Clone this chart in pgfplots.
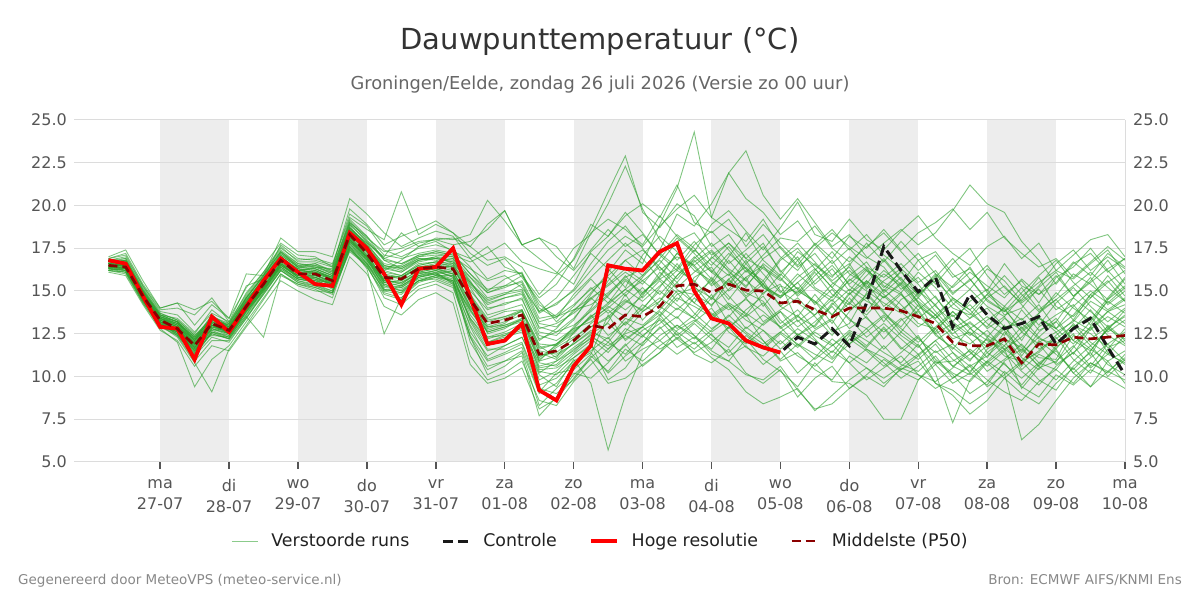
\documentclass[border=0pt]{standalone}
\usepackage{fontspec}
\setmainfont{DejaVu Sans}
\usepackage{pgfplots}
\usepackage{pgfplotstable}
\pgfplotsset{compat=1.18}
\definecolor{bandgray}{HTML}{EDEDED}
\definecolor{gridgray}{HTML}{DCDCDC}
\definecolor{ens}{HTML}{2CA02C}
\definecolor{p50c}{HTML}{8B0000}
\definecolor{titlec}{HTML}{333333}
\definecolor{subc}{HTML}{666666}
\definecolor{tickc}{HTML}{555555}
\definecolor{footc}{HTML}{888888}

% one row per ensemble member, 6-hourly values from 26-07 06:00 to 10-08 00:00
\pgfplotstableread[header=false]{
m1 16.6 16.7 14.9 13.4 13.0 12.0 13.3 12.9 14.5 15.7 17.1 16.4 16.3 15.9 18.8 17.6 16.3 16.1 16.7 16.9 16.8 15.3 14.2 14.6 14.9 12.9 12.6 13.4 14.6 15.3 16.1 15.4 16.6 17.9 18.4 17.1 17.8 16.9 16.3 15.6 16.8 15.2 14.6 15.9 16.7 15.3 14.8 13.9 14.7 13.2 12.4 13.3 14.0 12.6 13.4 12.8 14.1 15.0 14.3 15.2
m2 16.2 16.0 14.3 12.8 12.0 9.4 11.0 11.8 13.2 14.6 16.0 15.4 15.1 14.6 17.5 16.4 14.9 14.6 15.5 15.8 15.6 12.0 10.4 10.9 11.5 9.0 9.6 10.8 11.4 10.2 11.2 12.0 12.8 13.5 12.4 11.6 12.9 13.6 12.1 11.0 11.9 11.3 10.8 12.2 11.5 10.6 11.4 12.3 11.0 10.2 9.7 10.8 11.6 9.3 10.5 10.9 11.8 10.6 11.9 12.6
m3 16.8 17.0 15.3 13.8 13.6 12.6 13.7 13.2 14.8 16.1 17.5 16.8 16.9 16.6 19.3 18.6 18.0 20.8 18.3 18.9 18.4 17.2 16.5 16.9 15.8 14.4 13.2 14.1 15.2 14.3 15.6 14.8 15.9 17.2 16.4 15.3 16.0 14.7 15.6 14.1 13.5 14.8 13.6 14.9 13.8 15.1 14.2 13.1 12.8 13.6 12.5 11.9 13.0 11.2 12.6 13.4 12.1 13.2 14.4 13.7
m4 16.4 16.5 14.8 13.5 13.2 12.3 13.0 12.5 13.9 15.2 16.6 16.1 15.8 15.5 17.9 17.0 16.2 16.8 17.6 18.1 18.0 18.3 20.3 19.1 17.7 16.9 16.1 15.4 17.3 18.2 19.6 18.4 17.1 18.3 17.5 16.2 15.4 16.8 15.2 14.6 15.5 14.2 15.1 13.9 14.6 13.2 14.5 15.1 13.8 12.7 13.1 12.4 11.8 12.9 11.6 12.2 13.0 12.5 11.7 12.1
m5 16.3 16.2 14.6 13.1 12.6 11.6 12.6 12.3 13.6 15.1 16.5 15.8 15.6 15.3 18.1 17.0 15.1 14.9 15.8 16.1 15.4 12.6 11.2 11.8 12.3 10.1 9.4 11.0 9.6 5.7 8.9 11.3 12.4 13.0 12.2 13.4 14.1 12.8 13.6 12.9 11.8 12.7 13.3 11.9 12.6 13.5 12.4 11.7 12.8 11.4 10.6 11.2 12.1 10.4 11.3 10.8 12.4 11.6 10.9 11.5
m6 16.6 16.5 14.8 13.4 13.1 12.1 13.5 13.0 14.2 15.5 16.9 16.2 16.1 15.8 18.5 17.5 16.5 16.2 16.8 17.0 16.6 15.5 14.3 14.6 14.8 12.6 12.4 13.3 14.8 16.1 17.4 16.6 18.9 21.0 24.3 19.3 18.6 17.9 19.2 17.5 16.4 17.2 15.9 16.6 15.1 16.0 15.3 14.1 13.4 14.6 13.9 12.8 13.5 12.1 13.7 14.5 13.3 14.8 15.6 14.4
m7 16.7 16.9 15.1 13.7 13.3 12.4 13.4 12.8 14.6 15.9 17.3 16.5 16.6 16.1 18.9 17.9 16.8 16.3 16.9 16.8 16.5 15.2 13.6 13.9 14.2 12.1 12.8 13.9 14.2 14.9 15.8 16.3 17.4 19.5 18.8 20.1 21.9 23.2 20.6 19.2 20.4 19.0 17.6 18.3 17.0 16.4 15.1 15.8 14.6 13.5 14.2 13.1 12.4 13.9 12.7 13.2 14.6 13.8 12.9 13.5
m8 16.9 17.2 15.4 14.0 14.3 13.0 14.2 13.4 15.2 16.5 17.8 17.1 17.0 16.4 19.8 18.9 17.7 18.2 18.6 19.1 18.4 17.6 16.8 17.0 16.4 14.8 15.9 16.8 18.6 20.8 22.9 19.6 18.7 20.1 19.4 17.6 18.3 16.9 17.8 16.1 17.0 15.4 16.3 15.0 16.2 15.5 14.9 16.1 15.2 14.0 13.6 14.8 13.9 12.8 13.7 14.9 14.0 13.3 14.6 15.8
m9 16.5 16.3 14.6 13.2 12.7 11.9 13.2 12.9 14.3 15.3 16.7 15.9 16.2 15.7 18.1 17.1 15.7 15.4 16.1 16.0 16.2 14.1 12.8 13.1 13.9 11.8 11.1 12.6 13.5 14.2 15.1 15.9 16.8 15.7 16.9 17.8 16.6 17.4 18.3 17.0 16.2 17.5 18.4 17.6 16.9 17.8 18.6 17.7 18.4 19.7 21.2 20.1 19.6 17.9 16.8 15.4 16.6 17.2 16.1 16.9
m10 16.3 16.1 14.4 13.0 12.5 11.3 12.6 12.2 13.8 15.0 16.3 15.7 15.5 15.2 17.7 16.8 15.3 15.2 15.9 16.1 15.9 13.6 12.3 12.6 13.1 10.6 10.9 11.7 12.4 11.6 12.8 12.3 13.5 14.6 14.1 13.5 14.2 13.3 12.7 11.9 12.8 12.1 11.4 12.6 11.8 12.9 11.7 11.0 11.9 10.6 10.1 10.9 10.2 6.3 7.2 8.6 9.9 10.8 10.2 11.3
m11 16.4 16.4 14.7 13.2 12.4 11.2 12.3 12.0 13.4 14.8 16.2 15.6 15.3 14.9 17.3 16.5 14.6 14.2 15.1 15.4 14.9 11.2 9.8 10.2 10.9 8.6 8.3 9.7 10.7 11.6 12.4 11.8 12.9 11.7 12.3 11.5 10.9 12.2 11.0 10.3 9.4 10.8 9.7 9.6 8.9 7.5 7.5 9.8 10.7 11.4 10.2 11.6 12.3 11.1 10.4 11.7 12.5 11.2 13.0 12.1
m12 16.6 16.5 14.9 13.3 12.9 11.7 13.0 12.6 14.0 15.4 16.8 16.3 16.0 15.4 18.0 16.9 15.6 15.9 16.5 16.7 16.4 14.8 13.4 13.8 13.9 11.9 11.8 12.5 13.6 12.4 13.1 14.2 13.6 14.8 15.2 14.6 13.9 14.5 13.8 12.9 13.6 12.4 11.8 12.7 12.1 11.4 10.8 11.9 10.2 7.3 9.8 10.9 11.8 10.6 12.1 11.3 10.4 11.5 12.8 12.2
m13 17.0 17.4 15.6 14.0 14.3 13.9 14.4 13.4 16.0 15.9 18.1 17.3 17.3 17.0 20.4 19.5 18.4 17.6 18.1 18.5 18.2 16.9 15.7 16.2 16.0 13.8 14.2 15.1 16.6 17.9 18.8 17.5 16.2 17.0 16.5 17.3 16.1 15.3 16.4 15.7 14.8 15.9 16.8 15.3 14.6 15.6 16.3 15.4 14.1 13.2 14.4 15.1 13.6 14.0 15.2 16.1 14.7 15.5 16.3 16.9
m14 16.1 15.9 14.2 12.7 12.1 10.6 11.8 11.5 12.9 14.2 15.6 15.0 14.5 14.2 17.0 16.0 14.1 13.6 14.5 14.9 14.3 10.7 9.6 9.9 10.5 8.1 8.7 9.9 11.2 10.3 11.6 10.9 11.8 12.5 11.3 10.8 11.6 10.2 9.6 10.4 8.8 9.9 10.6 9.3 10.1 11.0 10.3 9.8 10.9 10.1 9.0 9.7 10.8 9.5 10.7 11.6 10.2 9.4 10.9 9.6
m15 16.5 16.6 14.8 13.4 12.9 12.2 12.9 12.7 14.2 15.6 16.9 16.1 16.0 15.7 18.4 17.3 16.0 15.8 16.4 16.6 16.5 14.9 12.5 12.8 13.4 11.0 11.7 12.3 12.9 13.5 14.4 13.9 15.2 16.6 15.3 14.1 15.6 14.9 14.4 13.1 13.9 12.8 13.4 14.3 13.6 14.7 13.8 12.9 13.6 12.4 11.9 12.7 11.6 10.9 12.0 12.6 11.3 12.8 13.5 12.9
m16 16.7 16.8 15.0 13.6 13.4 12.5 13.9 13.1 14.7 16.0 17.4 16.6 16.4 16.3 19.2 18.2 17.1 16.9 17.2 17.4 17.2 16.0 14.9 15.3 15.5 13.4 13.6 14.6 15.7 14.6 13.9 14.7 16.1 15.1 14.3 15.8 14.7 13.6 14.9 15.4 13.2 14.0 12.6 13.1 14.9 13.8 12.6 13.9 12.5 11.6 12.8 13.5 12.7 11.5 12.9 13.6 14.2 13.0 14.5 15.3
m17 16.2 16.3 14.5 13.0 12.6 11.4 13.4 12.8 13.9 15.1 16.4 15.7 15.7 15.1 17.8 16.6 15.2 15.1 15.7 15.9 15.9 13.3 11.8 12.2 12.9 9.8 10.3 11.3 12.1 13.2 14.8 13.3 14.4 15.9 16.8 15.7 14.5 15.8 16.5 15.0 14.3 13.6 14.7 15.6 16.4 14.9 15.8 14.3 12.6 13.8 12.9 11.4 12.2 11.7 10.6 11.8 13.1 12.0 11.3 10.8
m18 16.6 16.4 14.7 13.3 12.8 11.9 12.4 12.3 14.0 15.3 16.6 15.9 15.9 15.6 18.2 17.2 15.6 15.5 16.0 16.2 16.0 14.0 12.9 13.0 13.3 11.5 11.3 11.9 12.6 12.2 13.4 13.0 13.9 15.0 14.8 14.2 15.1 16.2 15.3 14.7 15.2 14.4 13.1 14.6 13.4 12.6 13.4 12.2 11.4 11.9 11.0 11.8 12.9 11.8 11.1 11.0 12.9 13.5 12.4 11.8
m19 16.4 16.2 14.6 13.1 12.7 11.8 13.1 12.5 13.7 15.0 16.5 15.9 15.8 15.4 17.9 16.8 15.5 15.3 16.0 16.2 15.8 13.2 11.6 11.6 12.0 9.5 9.9 10.9 11.5 12.3 10.9 11.6 12.1 11.3 12.0 11.1 10.4 9.1 8.4 8.8 9.3 8.0 8.9 9.8 10.5 9.9 10.6 11.3 9.6 9.2 8.4 9.1 10.3 9.4 8.8 10.1 9.5 10.4 9.9 9.3
m20 16.8 16.7 15.0 13.5 13.1 12.2 13.6 12.9 14.3 15.8 17.0 16.2 16.4 16.0 18.7 17.7 16.6 16.4 16.9 16.9 16.7 15.8 14.6 14.9 15.1 13.1 12.9 13.8 14.9 15.9 16.8 17.4 16.4 15.2 16.1 16.9 17.8 16.6 15.4 16.8 17.5 16.3 15.2 16.5 17.8 16.7 17.9 16.8 15.4 16.6 17.5 15.9 14.8 15.6 14.3 15.8 16.4 17.5 16.2 15.1
m21 16.3 16.4 14.6 13.2 12.7 11.6 12.9 12.6 14.1 15.2 16.6 15.8 15.6 15.5 18.0 17.0 15.5 15.6 16.2 16.3 16.1 14.4 12.0 12.4 13.0 10.4 10.5 11.1 11.9 9.8 10.5 11.9 13.4 12.6 11.9 12.7 13.6 12.6 11.9 12.6 13.3 12.2 11.1 12.4 11.7 12.8 11.6 12.4 10.8 10.9 11.5 10.3 11.0 11.9 10.8 10.4 11.7 12.9 11.4 10.7
m22 16.9 17.1 15.3 13.9 14.0 13.6 14.6 13.2 15.3 15.7 17.7 16.9 16.8 16.5 19.5 18.8 17.4 17.0 17.5 17.7 17.4 16.4 15.0 15.7 16.1 14.0 13.4 14.8 15.8 16.8 17.8 16.9 15.7 16.3 17.7 18.5 17.4 16.1 17.1 18.1 17.9 18.8 17.5 16.7 17.6 18.4 17.3 16.2 17.1 15.8 16.3 15.0 16.6 15.3 14.8 15.5 16.7 15.9 17.2 16.4
m23 16.5 16.3 14.5 13.0 12.4 10.9 12.1 12.1 13.4 14.9 16.2 15.5 15.2 14.8 17.4 16.4 14.8 14.5 15.3 15.6 15.2 12.4 10.9 11.3 11.7 9.1 10.2 10.4 11.3 13.6 12.1 12.9 13.8 12.8 13.6 14.8 13.1 12.0 13.1 13.8 12.4 13.2 14.1 12.8 13.5 12.2 13.3 13.8 12.4 11.7 10.9 12.3 11.2 10.9 11.4 12.3 11.0 10.2 11.6 12.8
m24 16.7 16.6 14.9 13.4 13.0 11.9 13.1 12.7 14.5 15.6 17.0 16.3 16.2 15.8 18.6 17.6 16.2 15.9 16.6 16.7 16.9 15.6 14.0 14.2 14.6 12.2 12.6 13.0 13.8 14.7 15.9 14.6 15.6 14.4 15.8 16.4 15.0 15.8 14.1 15.3 14.9 16.1 14.8 14.2 15.5 14.1 14.9 13.4 14.2 12.8 13.4 14.0 12.9 13.1 12.2 11.9 12.8 13.9 12.6 13.3
m25 16.2 16.1 14.4 13.1 12.5 11.4 12.8 12.4 13.6 14.9 16.3 15.6 15.4 15.0 17.6 16.7 15.0 14.8 15.6 15.7 15.3 12.3 10.6 10.9 11.2 7.7 8.8 10.1 11.0 9.6 9.9 10.7 11.4 12.3 11.6 12.5 11.2 11.8 10.7 11.5 10.2 11.1 12.2 11.4 10.8 11.8 10.7 10.3 11.2 9.9 10.6 9.4 10.1 10.9 9.8 9.2 10.6 11.4 10.0 11.0
m26 16.6 16.8 15.1 13.6 13.2 12.1 13.3 13.0 14.6 15.9 17.3 16.4 16.6 16.2 19.1 18.0 16.9 16.6 17.0 17.1 17.0 16.3 15.6 15.9 15.2 13.8 14.6 15.9 17.2 16.3 15.2 17.1 18.2 17.3 16.2 15.6 17.0 18.4 16.8 15.9 17.3 16.5 15.8 17.0 16.2 15.0 16.2 14.7 15.9 14.3 13.4 14.6 15.3 14.2 13.0 14.3 15.2 14.1 13.2 14.0
m27 16.4 16.5 14.8 13.3 12.8 11.8 13.0 12.6 14.2 15.5 16.8 16.1 15.9 15.6 18.3 17.3 15.9 15.7 16.4 16.5 16.4 14.6 13.0 13.4 13.8 11.4 11.0 12.0 12.9 13.4 14.3 15.2 14.1 13.4 14.6 13.7 12.8 13.9 14.7 13.3 12.4 13.0 14.3 13.4 12.3 13.1 12.2 11.3 12.1 12.8 11.4 10.6 11.5 12.6 11.9 10.7 11.4 12.2 12.9 11.9
m28 16.5 16.2 14.4 13.0 12.6 11.5 12.7 12.3 13.8 15.1 16.4 15.7 15.5 15.3 17.6 16.6 15.4 15.2 15.8 16.0 15.7 13.8 12.6 12.9 13.2 10.9 11.9 12.8 13.2 14.1 13.5 14.9 15.7 14.9 13.7 12.8 13.5 14.6 13.2 13.9 14.6 13.5 12.4 13.8 14.8 13.7 12.9 14.2 13.3 12.2 12.6 11.7 12.8 13.4 12.3 11.6 12.9 11.8 12.7 13.9
m29 16.8 16.9 15.2 13.7 13.3 12.4 13.2 13.1 14.9 16.1 17.6 16.7 16.7 16.4 19.0 18.1 17.3 17.5 17.9 18.0 17.7 17.9 18.6 19.7 17.7 18.1 17.6 16.3 18.4 19.2 18.6 17.7 19.4 18.2 17.3 18.9 19.7 18.5 17.4 18.7 20.2 18.3 17.9 19.2 18.0 17.4 18.5 19.4 18.1 17.2 16.5 17.6 18.2 16.9 17.8 16.2 15.7 16.6 17.4 16.0
m30 16.3 16.6 14.7 13.4 13.1 12.0 12.7 12.8 14.4 15.7 17.0 16.2 16.3 15.9 18.5 17.4 16.4 16.5 17.1 17.3 17.1 16.7 17.2 17.8 16.7 16.3 16.0 17.5 18.3 20.1 22.3 19.8 18.0 16.8 17.9 16.7 15.9 17.2 16.0 14.9 16.0 15.1 14.4 15.7 15.0 14.3 13.7 14.9 16.0 14.8 15.7 14.5 13.8 14.5 15.8 14.1 13.5 14.6 15.9 14.7
m31 16.3 16.2 14.5 13.0 12.3 10.8 9.1 11.6 13.0 14.5 16.0 15.3 15.0 14.9 17.4 16.6 15.0 15.3 15.9 16.0 15.5 13.4 12.2 12.5 12.8 10.5 10.7 11.6 12.2 11.4 12.6 13.8 14.6 13.9 14.8 15.6 14.2 13.5 14.3 12.8 13.5 12.9 14.2 15.1 14.4 13.9 14.8 13.6 12.5 13.1 12.2 11.1 12.6 11.4 12.3 13.2 12.1 11.5 12.8 13.6
m32 16.4 16.3 14.6 13.1 12.6 11.5 12.5 12.2 13.5 12.3 15.9 15.4 15.2 14.9 17.6 16.3 12.5 14.6 15.6 15.9 15.5 13.9 12.7 13.0 13.4 11.1 11.8 12.9 14.0 15.6 16.8 15.9 17.2 16.4 15.5 17.0 16.2 15.2 16.6 15.8 14.7 15.6 16.5 15.4 16.3 15.2 16.1 15.0 14.2 15.3 16.4 14.9 14.1 15.2 13.9 14.7 16.0 15.4 14.5 15.7
m33 16.7 16.8 15.0 13.6 13.2 12.2 13.4 12.9 14.4 15.7 17.2 16.4 16.5 16.0 18.9 17.9 16.9 17.3 17.8 18.0 18.1 17.6 18.9 19.7 17.7 18.1 17.0 16.2 17.4 18.6 17.6 18.3 17.1 16.2 17.4 16.5 17.6 16.3 15.6 16.9 17.8 16.7 15.6 16.4 15.2 16.2 15.4 16.8 17.3 16.0 15.1 16.3 15.6 14.4 15.3 16.6 17.4 16.2 17.0 16.3
m34 16.4 16.5 14.7 13.2 12.7 11.7 12.8 12.5 13.9 15.2 16.6 15.8 15.7 15.4 18.0 16.9 15.4 15.0 15.6 15.9 15.6 12.3 10.1 10.6 11.4 8.3 9.3 10.2 9.9 10.8 11.9 10.6 11.4 12.7 13.3 12.4 11.7 12.9 12.1 10.9 11.4 10.4 9.8 11.2 10.5 9.6 10.4 11.2 12.1 11.0 10.3 11.4 10.7 9.9 10.8 11.5 10.2 11.1 11.9 10.9
m35 16.6 16.5 14.8 13.5 13.0 12.1 13.2 12.8 14.3 15.6 17.0 16.3 16.2 15.8 18.6 17.6 16.1 15.9 16.5 16.7 16.6 15.0 13.9 14.3 14.5 12.4 12.1 12.8 13.9 14.8 15.7 14.9 15.8 17.2 16.5 15.4 16.8 15.6 14.8 16.0 15.1 14.3 15.4 16.2 15.3 14.6 15.5 14.4 13.6 14.5 13.7 12.9 14.1 13.3 14.2 12.8 13.6 14.8 13.9 14.6
m36 16.5 16.6 14.9 13.3 12.9 11.9 13.0 12.7 14.0 15.5 16.9 16.1 16.1 15.7 18.4 17.3 15.9 15.8 16.4 16.5 16.3 14.7 13.3 13.5 13.9 11.6 11.9 12.7 13.4 14.0 14.9 15.6 16.4 15.5 16.7 17.4 16.3 15.6 16.9 17.6 16.5 17.8 16.9 18.2 17.5 18.6 17.4 18.4 19.0 19.8 18.6 19.6 18.1 17.2 16.4 16.9 15.8 16.7 17.6 16.8
m37 16.3 16.3 14.6 13.2 12.8 11.7 13.0 12.6 13.9 15.2 16.6 15.9 15.8 15.4 18.1 17.0 15.6 15.4 16.1 16.3 16.0 13.9 12.3 12.4 12.7 10.8 10.6 11.4 12.3 11.8 12.5 12.9 12.1 13.0 12.4 11.3 10.9 10.1 9.8 10.6 9.2 8.1 8.4 9.3 10.0 9.4 10.5 10.1 9.3 9.9 10.7 9.8 9.1 8.6 9.7 10.4 9.6 10.8 10.3 9.8
m38 16.8 16.6 14.9 13.5 13.1 12.3 13.3 13.0 14.6 15.8 17.2 16.5 16.4 16.1 18.7 17.7 16.4 16.1 16.8 16.9 16.7 15.4 14.4 14.8 15.4 13.2 13.5 14.2 15.1 15.8 14.7 15.8 16.9 18.1 17.2 16.1 15.3 16.6 17.6 16.2 15.1 16.2 17.3 16.0 15.4 16.8 15.6 14.6 15.8 16.9 15.7 14.4 13.8 14.9 15.9 16.8 15.5 14.6 15.5 16.2
m39 16.2 16.1 14.3 12.9 12.4 11.3 12.5 12.2 13.5 14.8 16.2 15.5 15.3 15.0 17.5 16.5 15.1 14.9 15.6 15.8 15.4 13.0 11.5 11.8 12.3 10.2 10.9 11.5 12.5 13.1 12.2 12.9 13.6 12.4 13.2 14.0 12.6 11.9 12.7 11.6 12.5 11.8 11.0 11.9 12.8 11.6 12.6 11.8 10.7 9.6 10.2 9.5 10.9 11.6 10.6 9.8 10.9 11.8 10.7 10.1
m40 16.6 16.7 14.9 13.5 13.2 12.3 13.5 13.1 14.6 15.9 17.3 16.6 16.5 16.2 19.0 18.2 16.8 16.6 17.1 17.2 17.0 15.8 14.9 15.2 15.6 13.7 14.3 15.0 16.2 17.4 18.2 17.6 18.8 19.8 20.6 19.3 21.9 20.4 19.6 18.3 19.1 17.7 18.6 17.4 18.3 17.1 16.3 17.2 16.0 15.2 16.1 15.3 14.6 15.7 14.8 15.9 14.7 15.6 16.8 15.4
m41 16.6 16.4 14.8 13.4 13.0 11.9 13.2 12.8 14.2 15.5 16.9 16.2 16.1 15.8 18.5 17.6 16.3 16.4 17.0 17.3 17.1 16.0 15.1 15.3 15.9 14.6 15.4 16.9 18.9 18.2 19.4 20.1 19.3 21.2 19.0 18.4 19.2 17.6 18.9 17.8 16.8 17.7 16.6 17.5 16.4 15.8 16.6 15.5 16.2 14.9 15.6 16.5 15.2 14.3 15.1 13.9 14.6 15.8 14.2 15.0
m42 16.3 16.2 14.5 13.1 12.5 11.2 12.6 12.4 13.8 15.0 16.4 15.7 15.6 15.2 17.8 16.8 15.3 15.0 15.8 16.0 15.6 12.9 11.0 11.4 11.9 9.3 9.0 9.8 11.1 12.0 11.3 12.4 11.6 12.2 13.1 12.2 11.4 12.4 11.6 12.5 11.7 12.6 11.9 10.8 11.6 10.8 9.9 10.6 11.5 10.6 11.3 12.2 11.4 10.3 9.5 10.6 11.4 10.5 11.3 12.4
m43 16.5 16.5 14.7 13.3 12.7 11.7 13.0 12.6 14.1 15.3 16.7 16.0 15.9 15.5 18.2 17.1 15.7 15.6 16.2 16.4 16.2 14.3 12.9 13.2 13.6 11.2 11.4 12.2 13.1 13.9 13.0 14.0 15.0 14.2 13.4 14.6 15.7 14.6 15.4 14.1 15.0 14.4 13.6 14.8 15.6 14.8 13.9 14.6 13.6 12.5 13.2 12.3 13.4 12.7 13.5 12.6 13.2 14.4 13.8 14.5
m44 16.4 16.3 14.6 13.2 12.6 11.6 12.9 12.5 13.8 15.1 16.5 15.8 15.8 15.3 17.9 16.9 15.5 15.3 15.9 16.2 15.8 13.4 12.0 12.3 12.6 10.3 10.1 11.1 11.8 10.9 11.8 12.7 13.3 12.2 11.4 12.0 12.9 11.7 11.2 12.1 11.2 10.6 11.5 10.8 9.8 10.5 11.2 10.1 9.7 10.5 11.6 10.8 9.9 10.8 11.5 12.4 13.3 12.7 13.8 14.2
m45 16.7 16.7 15.0 13.6 13.2 12.1 13.4 12.9 14.4 15.7 17.1 16.4 16.3 15.9 18.7 17.8 16.5 16.3 16.8 17.0 16.9 15.5 14.5 14.8 15.0 12.8 13.1 13.7 14.5 15.4 16.3 15.6 14.8 15.9 17.0 16.1 17.2 16.3 15.2 14.7 15.8 16.6 15.5 14.8 15.9 16.9 15.7 14.8 15.6 14.6 13.9 14.8 15.9 14.8 13.8 14.5 15.3 16.1 15.2 14.4
m46 16.4 16.4 14.7 13.2 12.7 11.5 12.8 12.5 13.9 15.2 16.5 15.9 15.7 15.4 18.0 17.0 15.6 15.5 16.1 16.3 16.0 14.1 12.6 12.9 13.3 10.9 11.2 11.9 12.7 12.0 13.2 12.4 13.1 14.0 13.4 12.6 13.3 12.5 11.7 12.6 11.9 11.0 11.8 12.5 11.6 11.1 10.4 10.9 9.6 8.9 7.8 8.6 9.9 9.0 8.4 9.6 10.5 9.4 10.3 11.1
m47 16.6 16.6 14.8 13.4 12.9 11.9 13.1 12.8 14.1 15.5 16.9 16.1 16.0 15.7 18.3 17.3 15.9 15.8 16.3 16.5 16.4 14.6 13.2 13.5 13.8 11.7 11.9 12.6 13.5 14.3 15.1 14.4 15.3 16.2 15.6 14.5 15.7 16.4 15.4 14.6 15.5 16.3 15.2 14.3 15.6 14.6 15.4 14.3 13.4 14.2 15.1 14.1 13.5 14.7 15.5 16.2 17.1 18.0 18.3 17.0
m48 16.5 16.6 14.8 13.3 12.9 12.0 13.2 12.8 14.2 15.5 16.9 16.2 16.1 15.7 18.6 17.8 17.0 18.4 17.6 17.9 17.3 16.9 17.6 16.4 16.0 14.2 13.5 13.9 14.6 13.7 14.5 13.8 14.4 15.5 14.3 13.6 14.3 13.7 13.0 13.8 12.9 13.6 14.5 13.3 12.8 13.6 12.8 12.0 12.9 13.8 12.8 12.1 11.6 12.3 13.4 12.8 11.9 12.9 13.8 13.1
}\ensraw
\pgfplotstabletranspose[colnames from=0]\ens\ensraw

% control, high resolution and median, same time steps
\pgfplotstableread[header=false]{
hr 16.8 16.6 14.7 12.9 12.8 11.0 13.5 12.6 14.1 15.6 16.9 16.1 15.4 15.3 18.4 17.5 16.0 14.2 16.3 16.4 17.5 14.6 11.9 12.1 13.1 9.2 8.6 10.6 11.8 16.5 16.3 16.2 17.3 17.8 15.0 13.4 13.1 12.1 11.7 11.4 nan nan nan nan nan nan nan nan nan nan nan nan nan nan nan nan nan nan nan nan
ct 16.8 16.6 14.7 12.9 12.8 11.0 13.5 12.6 14.1 15.6 16.9 16.1 15.4 15.3 18.4 17.5 16.0 14.2 16.3 16.4 17.5 14.6 11.9 12.1 13.1 9.2 8.6 10.6 11.8 16.5 16.3 16.2 17.3 17.8 15.0 13.4 13.1 12.1 11.7 11.4 12.3 11.9 12.8 11.8 14.3 17.6 16.2 14.95 15.8 12.9 14.8 13.6 12.8 13.1 13.5 11.9 12.8 13.4 11.7 10.1
pm 16.5 16.4 14.7 13.3 12.8 11.8 13.1 12.7 14.1 15.4 16.8 16.0 16.0 15.6 18.3 17.2 15.8 15.7 16.3 16.4 16.3 14.5 13.1 13.3 13.6 11.3 11.5 12.1 13.0 12.8 13.6 13.5 14.1 15.3 15.4 14.9 15.4 15.05 15.0 14.3 14.4 13.9 13.5 14.0 14.0 14.0 13.85 13.5 13.1 12.0 11.8 11.8 12.2 10.8 11.9 11.85 12.3 12.2 12.3 12.4
}\mainraw
\pgfplotstabletranspose[colnames from=0]\mainT\mainraw

\begin{document}
\begin{tikzpicture}[x=1pt,y=1pt]
\node[anchor=base, inner sep=0pt, font=\fontsize{29}{34}\selectfont, text=titlec] at (600,550) {Dauwpunttemperatuur (°C)};
\node[anchor=base, inner sep=0pt, font=\fontsize{17.8}{21}\selectfont, text=subc] at (600,510) {Groningen/Eelde, zondag 26 juli 2026 (Versie zo 00 uur)};
\node[anchor=base west, inner sep=0pt, font=\fontsize{13.5}{15}\selectfont, text=footc] at (18,15) {Gegenereerd door MeteoVPS (meteo-service.nl)};
\node[anchor=base east, inner sep=0pt, font=\fontsize{13.5}{15}\selectfont, text=footc] at (1182,15) {Bron: ECMWF AIFS/KNMI Ens};

\begin{axis}[
  at={(74pt,138pt)}, anchor=south west, scale only axis,
  width=1051pt, height=342pt,
  xmin=-1.25, xmax=14, ymin=5, ymax=25,
  set layers,
  axis line style={draw=none},
  ytick={5,7.5,10,12.5,15,17.5,20,22.5,25},
  ymajorgrids, grid style={gridgray, line width=1pt},
  ytick style={draw=none},
  /pgf/number format/assume math mode=true,
  yticklabel={\pgfmathprintnumber[fixed,fixed zerofill,precision=1]{\tick}},
  yticklabel style={font=\fontsize{16}{19}\selectfont, text=tickc, inner sep=0pt, xshift=0pt},
  xtick={0,1,...,14},
  xticklabels={{ma\\27-07},{di\\28-07},{wo\\29-07},{do\\30-07},{vr\\31-07},{za\\01-08},{zo\\02-08},{ma\\03-08},{di\\04-08},{wo\\05-08},{do\\06-08},{vr\\07-08},{za\\08-08},{zo\\09-08},{ma\\10-08}},
  xtick pos=bottom,
  tick align=outside, major tick length=7pt,
  xtick style={draw=tickc, line width=1.5pt},
  xticklabel style={font=\fontsize{16}{21}\selectfont, text=tickc, align=center, inner sep=0pt, anchor=north, yshift=-10pt},
  legend columns=4,
  legend cell align=left,
  legend image code/.code={\draw[#1] (0pt,0pt) -- (26pt,0pt);},
  legend style={at={(0.5,-0.231)}, anchor=center, draw=none, fill=none,
    font=\fontsize{17.4}{20}\selectfont, text=black!87,
    nodes={inner sep=0pt},
    /tikz/every odd column/.append style={column sep=13pt},
    /tikz/every even column/.append style={column sep=32pt}},
]
\begin{pgfonlayer}{axis background}
\fill[bandgray] (axis cs:0,5) rectangle (axis cs:1,25);
\fill[bandgray] (axis cs:2,5) rectangle (axis cs:3,25);
\fill[bandgray] (axis cs:4,5) rectangle (axis cs:5,25);
\fill[bandgray] (axis cs:6,5) rectangle (axis cs:7,25);
\fill[bandgray] (axis cs:8,5) rectangle (axis cs:9,25);
\fill[bandgray] (axis cs:10,5) rectangle (axis cs:11,25);
\fill[bandgray] (axis cs:12,5) rectangle (axis cs:13,25);
\end{pgfonlayer}

\pgfplotsinvokeforeach{1,...,48}{
  \addplot[ens, draw opacity=0.6, line width=0.9pt, forget plot]
    table[x expr=\coordindex*0.25-0.75, y=m#1] {\ens};
}
\addlegendimage{ens!55, line width=1pt}
\addlegendentry{Verstoorde runs}
\addplot[black!90, line width=3pt, dash pattern=on 10pt off 5pt]
  table[x expr=\coordindex*0.25-0.75, y=ct] {\mainT};
\addlegendentry{Controle}
\addplot[red, line width=3.8pt]
  table[x expr=\coordindex*0.25-0.75, y=hr] {\mainT};
\addlegendentry{Hoge resolutie}
\addplot[p50c, line width=2.7pt, dash pattern=on 9pt off 5pt]
  table[x expr=\coordindex*0.25-0.75, y=pm] {\mainT};
\addlegendentry{Middelste (P50)}
\end{axis}

\begin{axis}[
  at={(74pt,138pt)}, anchor=south west, scale only axis,
  width=1051pt, height=342pt,
  xmin=-1.25, xmax=14, ymin=5, ymax=25,
  axis x line=none, axis y line*=right,
  y axis line style={gridgray, line width=1pt},
  ytick={5,7.5,10,12.5,15,17.5,20,22.5,25},
  ytick style={draw=none},
  /pgf/number format/assume math mode=true,
  yticklabel={\pgfmathprintnumber[fixed,fixed zerofill,precision=1]{\tick}},
  yticklabel style={font=\fontsize{16}{19}\selectfont, text=tickc, inner sep=0pt, xshift=8pt},
]
\addplot[draw=none, forget plot] coordinates {(0,10)};
\end{axis}
\pgfresetboundingbox
\path[use as bounding box] (0,0) rectangle (1200,600);
\end{tikzpicture}
\end{document}
